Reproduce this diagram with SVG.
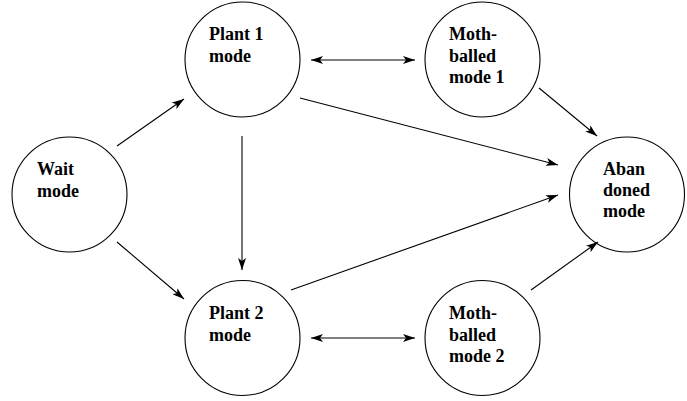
<svg xmlns="http://www.w3.org/2000/svg" width="687" height="401" viewBox="0 0 687 401">
<style>
.n{fill:none;stroke:#000;stroke-width:1.1}
.t{font-family:"Liberation Serif","Times New Roman",serif;font-weight:bold;font-size:18px;fill:#000}
.c{fill:none;stroke:#000;stroke-width:1.1}
</style>
<defs>
<marker id="ah" viewBox="0 0 12 8" refX="12" refY="4" markerWidth="12" markerHeight="8" orient="auto-start-reverse" markerUnits="userSpaceOnUse">
<path d="M0,0 L12,4 L0,8 L3,4 z" fill="#000"/>
</marker>
</defs>
<g id="wait"><circle class="n" cx="69.5" cy="194.5" r="57.5"/><text class="t" x="37" y="175">Wait</text><text class="t" x="37" y="197">mode</text></g>
<g id="plant1"><circle class="n" cx="242.5" cy="59.5" r="57.5"/><text class="t" x="209" y="40">Plant 1</text><text class="t" x="209" y="62">mode</text></g>
<g id="plant2"><circle class="n" cx="242.5" cy="338" r="57.5"/><text class="t" x="209" y="319">Plant 2</text><text class="t" x="209" y="341">mode</text></g>
<g id="moth1"><circle class="n" cx="482.5" cy="59.5" r="57.5"/><text class="t" x="449" y="40">Moth-</text><text class="t" x="449" y="62">balled</text><text class="t" x="449" y="83">mode 1</text></g>
<g id="moth2"><circle class="n" cx="482.5" cy="338" r="57.5"/><text class="t" x="449" y="319">Moth-</text><text class="t" x="449" y="341">balled</text><text class="t" x="449" y="362">mode 2</text></g>
<g id="aban"><circle class="n" cx="627" cy="194.5" r="57.5"/><text class="t" x="603" y="175">Aban</text><text class="t" x="603" y="196">doned</text><text class="t" x="603" y="217">mode</text></g>
<g id="connectors">
<line class="c" x1="311" y1="60" x2="415" y2="60" marker-start="url(#ah)" marker-end="url(#ah)"/>
<line class="c" x1="311" y1="338" x2="415" y2="338" marker-start="url(#ah)" marker-end="url(#ah)"/>
<line class="c" x1="117" y1="146" x2="184" y2="99" marker-end="url(#ah)"/>
<line class="c" x1="117" y1="242" x2="184" y2="299" marker-end="url(#ah)"/>
<line class="c" x1="242" y1="136" x2="242" y2="270" marker-end="url(#ah)"/>
<line class="c" x1="300" y1="98" x2="558" y2="165" marker-end="url(#ah)"/>
<line class="c" x1="539" y1="88" x2="597" y2="136" marker-end="url(#ah)"/>
<line class="c" x1="291" y1="290" x2="558" y2="195" marker-end="url(#ah)"/>
<line class="c" x1="531" y1="290" x2="598" y2="242" marker-end="url(#ah)"/>
</g>
</svg>
